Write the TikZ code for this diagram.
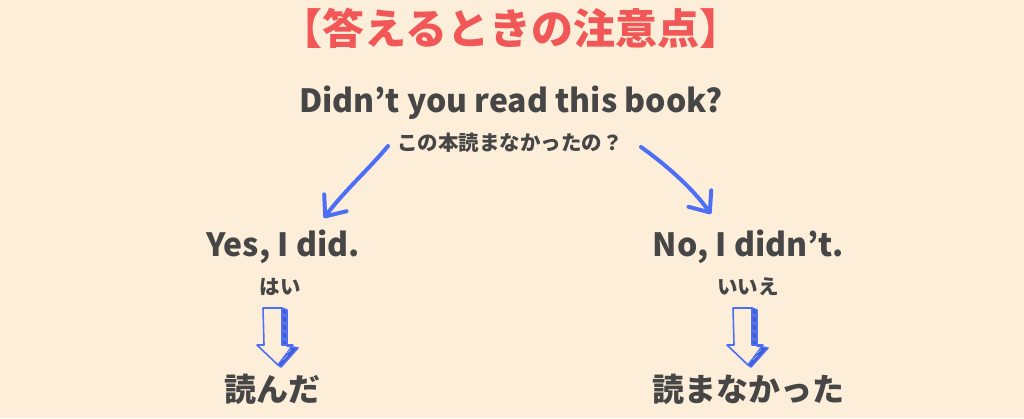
\documentclass[tikz,border=0pt]{standalone}
\usepackage{fontspec}
\newfontfamily\cjk{Noto Sans CJK JP}
\usetikzlibrary{arrows.meta}
\definecolor{bg}{HTML}{FDEEDA}
\definecolor{ttl}{HTML}{F25757}
\definecolor{txt}{HTML}{464646}
\definecolor{blu}{HTML}{4D6FF5}
\definecolor{bludk}{HTML}{3F5BD8}
\tikzset{
  title/.style={font=\cjk\bfseries\fontsize{42}{44}\selectfont, text=ttl, inner sep=0pt},
  eng/.style={font=\cjk\bfseries\fontsize{32}{34}\selectfont, text=txt, inner sep=0pt},
  jsmall/.style={font=\cjk\bfseries\fontsize{20.5}{22}\selectfont, text=txt, inner sep=0pt},
  jbig/.style={font=\cjk\bfseries\fontsize{32}{34}\selectfont, text=txt, inner sep=0pt},
  curv/.style={draw=blu, line width=4pt, line cap=round, line join=round,
    -{Straight Barb[length=17pt, width=28pt, line cap=round, line join=round]}},
  downarrow/.style={draw=blu, line width=1.6pt, line join=round, line cap=round},
}
\begin{document}
\begin{tikzpicture}[x=1pt, y=-1pt]
\fill[bg] (0,0) rectangle (1024,418);
\useasboundingbox (0,0) rectangle (1024,418);

\node[title] (t) at (511,28) {【答えるときの注意点】};
\node[eng] (q) at (511,103) {Didn’t you read this book?};
\node[jsmall] (qj) at (510,143) {この本読まなかったの？};

\node[eng] (yes) at (283,247) {Yes, I did.};
\node[eng] (no) at (748,247) {No, I didn’t.};
\node[jsmall] (hai) at (280,287) {はい};
\node[jsmall] (iie) at (748,287) {いいえ};
\node[jbig] (a1) at (272,389) {読んだ};
\node[jbig] (a2) at (748,389) {読まなかった};

\coordinate (ls) at (388,146);
\coordinate (le) at (324,218);
\coordinate (rs) at (641,147);
\coordinate (re) at (711,214);
\draw[curv] (ls) .. controls (370,168) and (345,190) .. (le);
\draw[curv] (rs) .. controls (662,162) and (690,185) .. (re);

\foreach \ox/\nm in {263/d1, 733/d2}{
  \begin{scope}[shift={(\ox,308)}]
    \fill[bludk] (19,0) -- (24,2) -- (24,38) -- (35,40) -- (18,59) -- (15,57) -- (30,37) -- (19,37) -- cycle;
    \draw[downarrow] (19,0) -- (24,2) -- (24,38) -- (35,40) -- (18,59) -- (15,57);
    \draw[downarrow] (0,0) -- (19,0) -- (19,37) -- (30,37) -- (15,57) -- (-6,37) -- (1,37) -- cycle;
    \draw[white, line width=0.5pt, opacity=0.6] (20.5,6) -- (22.5,9) (20.5,14) -- (22.5,17) (20.5,22) -- (22.5,25) (20.5,30) -- (22.5,33) (24,45) -- (28,42) (20,52) -- (25,47);
    \coordinate (\nm) at (15,57);
  \end{scope}
}
\end{tikzpicture}
\end{document}
